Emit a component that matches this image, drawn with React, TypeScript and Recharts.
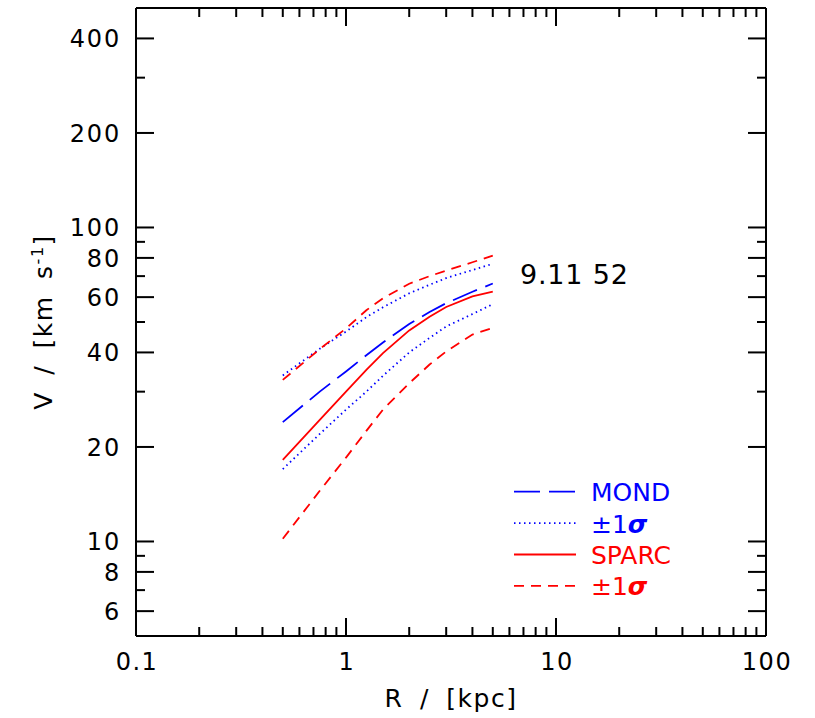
import { LineChart, Line, XAxis, YAxis, Legend } from "recharts"

// radii in kpc, velocities in km/s
const radii = [0.5, 0.75, 1, 1.25, 1.5, 2, 2.5, 3, 4, 5]
const mond = [24, 30, 34.8, 39.2, 43, 49.3, 53.8, 57.4, 62.4, 66.3]
const mondLow = [17, 22, 26.3, 30, 33.7, 40, 44.5, 48.4, 53, 57]
const mondHigh = [33.8, 41.1, 46.6, 51.8, 55.7, 61.7, 65.7, 69, 73.2, 76.6]
const sparc = [18.2, 24.4, 30, 35.2, 39.8, 47, 52, 55.8, 60.3, 62.5]
const sparcLow = [10.2, 14.5, 18.5, 22.5, 26.3, 31.9, 36.6, 40.3, 45.6, 47.9]
const sparcHigh = [32.7, 41, 47.7, 54.5, 59.5, 66.2, 70, 72.9, 77.5, 81.3]

const xTicks = [0.1, 0.2, 0.3, 0.4, 0.5, 0.6, 0.7, 0.8, 0.9, 1, 2, 3, 4, 5, 6, 7, 8, 9, 10, 20, 30, 40, 50, 60, 70, 80, 90, 100]
const xLabels = [0.1, 1, 10, 100]
const xMajors = [0.1, 1, 10, 100]
const yTicks = [6, 7, 8, 9, 10, 20, 30, 40, 50, 60, 70, 80, 90, 100, 200, 300, 400]
const yLabels = [6, 8, 10, 20, 40, 60, 80, 100, 200, 400]
const yMajors = [6, 8, 10, 20, 40, 60, 80, 100, 200, 400]

const annotation = "9.11 52"

const data = radii.map((r, i) => ({
  r,
  mond: mond[i],
  mondLow: mondLow[i],
  mondHigh: mondHigh[i],
  sparc: sparc[i],
  sparcLow: sparcLow[i],
  sparcHigh: sparcHigh[i],
}))

const BLUE = "#0000ff"
const RED = "#ff0000"
const FONT = "'DejaVu Sans', sans-serif"
const MAJOR = 18
const MINOR = 9

const series = [
  { key: "mond", color: BLUE, dash: "26 9" },
  { key: "mondLow", color: BLUE, dash: "1.5 3.5" },
  { key: "mondHigh", color: BLUE, dash: "1.5 3.5" },
  { key: "sparc", color: RED, dash: undefined },
  { key: "sparcLow", color: RED, dash: "10 7" },
  { key: "sparcHigh", color: RED, dash: "10 7" },
]

const legendItems = [
  { label: "MOND", sigma: false, color: BLUE, dash: "26 9" },
  { label: "±1", sigma: true, color: BLUE, dash: "1.5 3.5" },
  { label: "SPARC", sigma: false, color: RED, dash: undefined },
  { label: "±1", sigma: true, color: RED, dash: "10 7" },
]

function AxisTick(props: any) {
  const { x, y, payload, side, majors, labels } = props
  const v = payload.value
  const len = majors.includes(v) ? MAJOR : MINOR
  const showLabel = labels && labels.includes(v)
  let line
  let label = null
  if (side === "bottom") {
    line = <line x1={x} y1={y} x2={x} y2={y - len} stroke="#000" strokeWidth={2} />
    if (showLabel)
      label = (
        <text x={x + 1} y={y + 34} textAnchor="middle" fontSize={24} letterSpacing={1.5} fontFamily={FONT} fill="#000">
          {String(v)}
        </text>
      )
  } else if (side === "top") {
    line = <line x1={x} y1={y} x2={x} y2={y + len} stroke="#000" strokeWidth={2} />
  } else if (side === "left") {
    line = <line x1={x} y1={y} x2={x + len} y2={y} stroke="#000" strokeWidth={2} />
    if (showLabel)
      label = (
        <text x={x - 15} y={y + 9} textAnchor="end" fontSize={24} letterSpacing={1.8} fontFamily={FONT} fill="#000">
          {String(v)}
        </text>
      )
  } else {
    line = <line x1={x} y1={y} x2={x - len} y2={y} stroke="#000" strokeWidth={2} />
  }
  return (
    <g>
      {line}
      {label}
    </g>
  )
}

function renderLegend() {
  return (
    <svg width={180} height={135}>
      {legendItems.map((item, i) => {
        const cy = 21.7 + 31.4 * i
        return (
          <g key={i}>
            <line x1={9} y1={cy} x2={71} y2={cy} stroke={item.color} strokeWidth={1.8} strokeDasharray={item.dash} />
            <text x={86} y={cy + 9.5} fontSize={25} fontFamily={FONT} fill={item.color}>
              {item.label}
              {item.sigma && <tspan fontStyle="italic" fontWeight="bold">σ</tspan>}
            </text>
          </g>
        )
      })}
    </svg>
  )
}

function YTitle(props: any) {
  const { viewBox } = props
  const cx = viewBox.x + 52
  const cy = viewBox.y + viewBox.height / 2
  return (
    <text x={cx} y={cy} transform={`rotate(-90 ${cx} ${cy})`} textAnchor="middle" fontSize={25} letterSpacing={1.5} wordSpacing={7} fontFamily={FONT} fill="#000">
      V / [km s<tspan baselineShift="super" fontSize={16}>-1</tspan>]
    </text>
  )
}

function XTitle(props: any) {
  const { viewBox } = props
  return (
    <text x={viewBox.x + viewBox.width / 2} y={viewBox.y + 71} textAnchor="middle" fontSize={25} letterSpacing={1.5} wordSpacing={7} fontFamily={FONT} fill="#000">
      R / [kpc]
    </text>
  )
}

export default function App() {
  return (
    <div style={{ position: "absolute", left: 0, top: 0, width: 815, height: 718, background: "#fff" }}>
      <LineChart width={815} height={718} data={data} margin={{ top: 0, right: 0, bottom: 0, left: 0 }}>
        <XAxis
          xAxisId="b"
          dataKey="r"
          type="number"
          scale="log"
          domain={[0.1, 100]}
          allowDataOverflow
          ticks={xTicks}
          interval={0}
          height={82}
          tickSize={0}
          tickMargin={0}
          tickLine={false}
          axisLine={{ stroke: "#000", strokeWidth: 2 }}
          tick={<AxisTick side="bottom" majors={xMajors} labels={xLabels} />}
          label={<XTitle />}
        />
        <XAxis
          xAxisId="t"
          orientation="top"
          dataKey="r"
          type="number"
          scale="log"
          domain={[0.1, 100]}
          allowDataOverflow
          ticks={xTicks}
          interval={0}
          height={8}
          tickSize={0}
          tickMargin={0}
          tickLine={false}
          axisLine={{ stroke: "#000", strokeWidth: 2 }}
          tick={<AxisTick side="top" majors={xMajors} />}
        />
        <YAxis
          yAxisId="l"
          type="number"
          scale="log"
          domain={[5, 500]}
          allowDataOverflow
          ticks={yTicks}
          interval={0}
          width={136}
          tickSize={0}
          tickMargin={0}
          tickLine={false}
          axisLine={{ stroke: "#000", strokeWidth: 2 }}
          tick={<AxisTick side="left" majors={yMajors} labels={yLabels} />}
          label={<YTitle />}
        />
        <YAxis
          yAxisId="r"
          orientation="right"
          type="number"
          scale="log"
          domain={[5, 500]}
          allowDataOverflow
          ticks={yTicks}
          interval={0}
          width={49}
          tickSize={0}
          tickMargin={0}
          tickLine={false}
          axisLine={{ stroke: "#000", strokeWidth: 2 }}
          tick={<AxisTick side="right" majors={yMajors} />}
        />
        <Legend
          layout="horizontal"
          verticalAlign="middle"
          align="center"
          wrapperStyle={{ left: 505, top: 470, width: 180, height: 135 }}
          content={renderLegend}
        />
        {series.map((s) => (
          <Line
            key={s.key}
            xAxisId="b"
            yAxisId="l"
            dataKey={s.key}
            type="linear"
            stroke={s.color}
            strokeWidth={1.8}
            strokeDasharray={s.dash}
            dot={false}
            activeDot={false}
            isAnimationActive={false}
          />
        ))}
      </LineChart>
      <svg width={815} height={718} style={{ position: "absolute", left: 0, top: 0, pointerEvents: "none" }}>
        <text x={520} y={284} fontSize={27} letterSpacing={0.8} fontFamily={FONT} fill="#000">
          {annotation}
        </text>
      </svg>
    </div>
  )
}
